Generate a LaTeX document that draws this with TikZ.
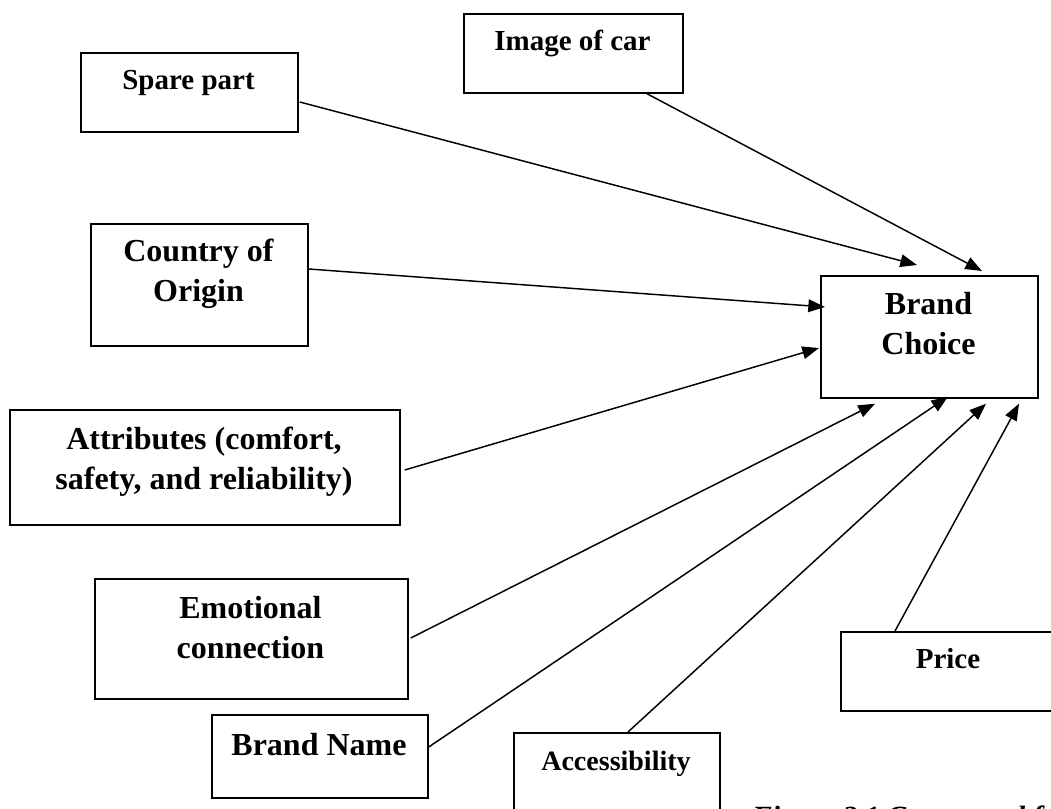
\documentclass[tikz,border=0pt]{standalone}
\usepackage{fontspec}
\setmainfont{Liberation Serif}
\usetikzlibrary{arrows.meta,calc}
\tikzset{
  box/.style={draw=black, line width=1.3pt, rectangle, inner sep=0pt, anchor=north west, fill=white},
  lbl/.style={font=\bfseries\fontsize{21.75}{30}\selectfont, align=center, anchor=base, inner sep=0pt},
  lblbig/.style={lbl, font=\bfseries\fontsize{24}{30}\selectfont},
  lblsmall/.style={lbl, font=\bfseries\fontsize{21}{30}\selectfont},
  link/.style={line width=1.1pt, -{Triangle[length=12.5pt,width=9.5pt]}},
  captext/.style={font=\bfseries\itshape\fontsize{22}{30}\selectfont, anchor=base west, inner sep=0pt}
}
\begin{document}
\begin{tikzpicture}[x=0.75pt, y=-0.75pt]
\useasboundingbox (0,0) rectangle (1051,809);
\clip (0,0) rectangle (1051,809);
% boxes
\node[box, minimum width=162.75pt, minimum height=59.25pt] (sp) at (80,52) {};
\node[box, minimum width=164.25pt, minimum height=59.25pt] (img) at (463,13) {};
\node[box, minimum width=162.75pt, minimum height=91.5pt] (coo) at (90,223) {};
\node[box, minimum width=292.5pt, minimum height=86.25pt] (att) at (9,409) {};
\node[box, minimum width=234.75pt, minimum height=90pt] (emo) at (94,578) {};
\node[box, minimum width=162pt, minimum height=62.25pt] (bn) at (211,714) {};
\node[box, minimum width=154.5pt, minimum height=81pt] (acc) at (513,732) {};
\node[box, minimum width=162pt, minimum height=59.25pt] (pr) at (840,631) {};
\node[box, minimum width=162.75pt, minimum height=91.5pt] (bc) at (820,275) {};
% labels (base = baseline of the last line)
\node[lbl] (sptxt) at (188.5,90) {Spare part};
\node[lbl] (imgtxt) at (572.5,51) {Image of car};
\node[lblbig] (cootxt) at (198.5,302) {Country of\\Origin};
\node[lblbig] (atttxt) at (204,490) {Attributes (comfort,\\safety, and reliability)};
\node[lblbig] (emotxt) at (250.5,658) {Emotional\\connection};
\node[lblbig] (bntxt) at (319,755) {Brand Name};
\node[lblsmall] (acctxt) at (616,770) {Accessibility};
\node[lbl] (prtxt) at (948,668) {Price};
\node[lblbig] (bctxt) at (928.5,355) {Brand\\Choice};
% caption
\node[captext] (caption) at (752,826) {Figure 2.1 Conceptual framework};
% connectors
\draw[link] ($(sp.north east)+(1,50)$) -- ($(bc.north west)+(97,-10)$);
\draw[link] ($(img.south west)+(184,0)$) -- ($(bc.north west)+(162,-4)$);
\draw[link] ($(coo.north east)+(0,46)$) -- ($(bc.north west)+(5,32)$);
\draw[link] ($(att.north east)+(4,61)$) -- ($(bc.north west)+(-1,73)$);
\draw[link] ($(emo.north east)+(2,60)$) -- ($(bc.south west)+(55,5)$);
\draw[link] ($(bn.north east)+(0,33)$) -- ($(bc.south west)+(128,-2)$);
\draw[link] ($(acc.north west)+(115,0)$) -- ($(bc.south west)+(166,5)$);
\draw[link] ($(pr.north west)+(55,0)$) -- ($(bc.south west)+(199,5)$);
\end{tikzpicture}
\end{document}
